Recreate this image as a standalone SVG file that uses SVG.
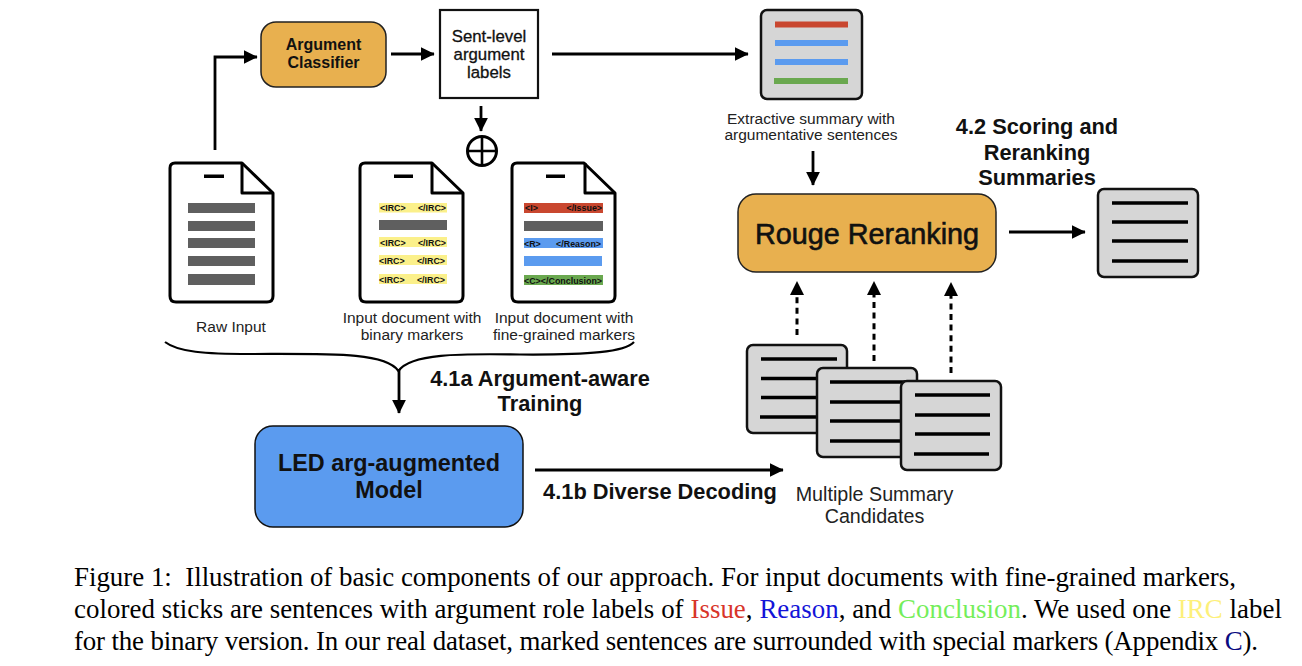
<svg xmlns="http://www.w3.org/2000/svg" width="1302" height="666" viewBox="0 0 1302 666">
<style>
text{font-family:"Liberation Sans",Arial,sans-serif;fill:#111;text-anchor:middle}
.b{font-weight:700}
.lab{font-size:15.5px;fill:#222}
.sec{font-size:21.8px;font-weight:700}
.multi{font-size:19.7px;fill:#222}
.sent{font-size:16.8px;stroke:#111;stroke-width:.3}
.tag{font-size:8.9px;font-weight:700;text-anchor:start}
.tagend{font-size:8.9px;font-weight:700;text-anchor:end}
.cap{font-family:"Liberation Serif","Times New Roman",serif;font-size:26.9px;text-anchor:start;fill:#000}
.doc{fill:#fff;stroke:#000;stroke-width:3;stroke-linejoin:round}
.fold{fill:none;stroke:#000;stroke-width:3;stroke-linejoin:round}
.card{fill:#d6d6d6;stroke:#111;stroke-width:2.5}
.ln{stroke:#000;stroke-width:3.4;fill:none}
.con{stroke:#000;stroke-width:2.8;fill:none}
.brace{stroke:#000;stroke-width:2.2;fill:none}
.dash{stroke:#000;stroke-width:3;fill:none;stroke-dasharray:6 4.6}
.gr{fill:#5f5f5f}.ye{fill:#fbf08a}.re{fill:#c9472f}.bl{fill:#5b9bef}.gn{fill:#6aa84f}
</style>
<defs>
<marker id="ah" viewBox="0 0 10 10" refX="9.5" refY="5" markerUnits="userSpaceOnUse" markerWidth="14" markerHeight="14" orient="auto"><path d="M0 0L10 5L0 10Z" fill="#000"/></marker>
<path id="page" d="M175 163H242L273 193V296Q273 302 267 302H176Q170 302 170 296V168Q170 163 175 163Z"/>
</defs>
<g id="connectors">
<path class="con" marker-end="url(#ah)" d="M215 150V57H257"/>
<path class="con" marker-end="url(#ah)" d="M391 54H434"/>
<path class="con" marker-end="url(#ah)" d="M552 54H748"/>
<path class="con" marker-end="url(#ah)" d="M481 106V131"/>
<path class="con" marker-end="url(#ah)" d="M813 151V185"/>
<path class="con" marker-end="url(#ah)" d="M1009 232H1085"/>
<path class="con" marker-end="url(#ah)" d="M535 470H783"/>
<path class="con" marker-end="url(#ah)" d="M399 370V413"/>
<path class="brace" d="M165 342C178 352 205 354 250 354C330 354 385 352 398.500 371C411 352 470 354 520 354.500C590 355 625 352 634 342"/>
<path class="dash" d="M797 335V294"/><path d="M790 295L797 281L804 295Z"/>
<path class="dash" d="M874 361V294"/><path d="M867 295L874 281L881 295Z"/>
<path class="dash" d="M951 373V295"/><path d="M944 296L951 282L958 296Z"/>
</g>
<g id="classifier"><rect x="261" y="22" width="125" height="65" rx="15" fill="#e8b04f" stroke="#222" stroke-width="1.5"/><text class="b" x="323.500" y="50" font-size="16">Argument</text><text class="b" x="323.500" y="68" font-size="16">Classifier</text></g>
<g id="sent-labels"><rect x="440" y="10" width="98" height="88" fill="#fff" stroke="#111" stroke-width="2.2"/><text class="sent" x="489" y="42">Sent-level</text><text class="sent" x="489" y="60">argument</text><text class="sent" x="489" y="78">labels</text></g>
<g id="oplus"><circle cx="482" cy="151" r="14.5" fill="#fff" stroke="#000" stroke-width="3"/><path d="M467.5 151H496.5M482 136.500V165.500" stroke="#000" stroke-width="2.600"/></g>
<g id="raw-input"><use href="#page" class="doc"/><path class="fold" d="M242 163V193H273"/><rect x="204" y="174.500" width="20" height="3.500"/>
<rect class="gr" x="188" y="203" width="67" height="10"/><rect class="gr" x="188" y="221" width="67" height="10"/><rect class="gr" x="188" y="238" width="67" height="10"/><rect class="gr" x="188" y="256" width="67" height="10"/><rect class="gr" x="188" y="274" width="67" height="11"/>
<text class="lab" x="231" y="332">Raw Input</text></g>
<g id="binary-doc"><use href="#page" x="190" class="doc"/><path class="fold" d="M432 163V193H463"/><rect x="394" y="174.500" width="19" height="3.500"/>
<rect class="ye" x="379" y="203" width="68" height="9.500"/><rect class="gr" x="379" y="220" width="68" height="10"/><rect class="ye" x="379" y="237" width="68" height="10"/><rect class="ye" x="379" y="255" width="68" height="10"/><rect class="ye" x="379" y="274" width="68" height="10"/>
<text class="tag" x="380" y="211">&lt;IRC&gt;</text><text class="tagend" x="446" y="211">&lt;/IRC&gt;</text>
<text class="tag" x="380" y="245.500">&lt;IRC&gt;</text><text class="tagend" x="446" y="245.500">&lt;/IRC&gt;</text>
<text class="tag" x="379" y="263.500">&lt;IRC&gt;</text><text class="tagend" x="445" y="263.500">&lt;/IRC&gt;</text>
<text class="tag" x="379" y="282.500">&lt;IRC&gt;</text><text class="tagend" x="445" y="282.500">&lt;/IRC&gt;</text>
<text class="lab" x="412" y="323">Input document with</text><text class="lab" x="412" y="340">binary markers</text></g>
<g id="fine-doc"><use href="#page" x="342" class="doc"/><path class="fold" d="M585 163V193H615"/><rect x="546" y="174.500" width="19" height="3.500"/>
<rect class="re" x="524" y="203" width="79" height="10"/><rect class="gr" x="524" y="221" width="79" height="10"/><rect class="bl" x="524" y="238" width="79" height="10"/><rect class="bl" x="524" y="256" width="78" height="10"/><rect class="gn" x="524" y="275" width="79" height="10"/>
<text class="tag" x="525" y="211">&lt;I&gt;</text><text class="tagend" x="602" y="211">&lt;/Issue&gt;</text>
<text class="tag" x="524" y="246.500">&lt;R&gt;</text><text class="tagend" x="601" y="246.500">&lt;/Reason&gt;</text>
<text class="tag" x="524" y="283.500">&lt;C&gt;</text><text class="tagend" x="602" y="283.500">&lt;/Conclusion&gt;</text>
<text class="lab" x="564" y="323">Input document with</text><text class="lab" x="564" y="340">fine-grained markers</text></g>
<g id="extractive"><rect class="card" x="761" y="10" width="101" height="89" rx="6"/><rect class="re" x="775" y="21.500" width="73" height="6"/><rect class="bl" x="775" y="40" width="73" height="6"/><rect class="bl" x="775" y="59" width="73" height="6"/><rect class="gn" x="774" y="78" width="74" height="6"/>
<text class="lab" x="811" y="124">Extractive summary with</text><text class="lab" x="811" y="140">argumentative sentences</text></g>
<g id="rouge"><rect x="738" y="194" width="258" height="78" rx="18" fill="#e8b04f" stroke="#222" stroke-width="1.5"/><text x="867" y="244" font-size="28.800" stroke="#111" stroke-width=".6">Rouge Reranking</text></g>
<g id="final-summary"><rect class="card" x="1098" y="189" width="100" height="88" rx="6"/><path class="ln" d="M1112 203H1188M1112 222H1188M1112 241H1188M1112 261H1188"/></g>
<g id="candidate-1"><rect class="card" x="747" y="345" width="100" height="88" rx="6"/><path class="ln" d="M761 359H837M761 378.500H837M761 397.500H837M760 417H837"/></g>
<g id="candidate-2"><rect class="card" x="817" y="368" width="100" height="89" rx="6"/><path class="ln" d="M830 382H906M830 402H906M830 421H906M830 441H906"/></g>
<g id="candidate-3"><rect class="card" x="901" y="381" width="100" height="89" rx="6"/><path class="ln" d="M915 395H990M915 415H990M915 434H990M914 454H989"/></g>
<g id="led"><rect x="255" y="426" width="268" height="101" rx="18" fill="#5b9bef" stroke="#111" stroke-width="1.5"/><text class="b" x="389" y="471" font-size="23.400">LED arg-augmented</text><text class="b" x="389" y="498" font-size="23.400">Model</text></g>
<g id="labels">
<text class="sec" x="1037" y="134">4.2 Scoring and</text><text class="sec" x="1037" y="160">Reranking</text><text class="sec" x="1037" y="185">Summaries</text>
<text class="sec" x="540" y="386">4.1a Argument-aware</text><text class="sec" x="540" y="411">Training</text>
<text class="sec" x="660" y="499">4.1b Diverse Decoding</text>
<text class="multi" x="874.500" y="501">Multiple Summary</text><text class="multi" x="874.500" y="523">Candidates</text>
</g>
<g id="caption">
<text class="cap" x="74" y="586" textLength="1162" xml:space="preserve">Figure 1:  Illustration of basic components of our approach. For input documents with fine-grained markers,</text>
<text class="cap" x="74" y="618" textLength="1208">colored sticks are sentences with argument role labels of <tspan fill="#d8352a">Issue</tspan>, <tspan fill="#1414d8">Reason</tspan>, and <tspan fill="#74ee5a">Conclusion</tspan>. We used one <tspan fill="#fdf07a">IRC</tspan> label</text>
<text class="cap" x="74" y="650" textLength="1184">for the binary version. In our real dataset, marked sentences are surrounded with special markers (Appendix <tspan fill="#0a0a80">C</tspan>).</text>
</g>
</svg>
